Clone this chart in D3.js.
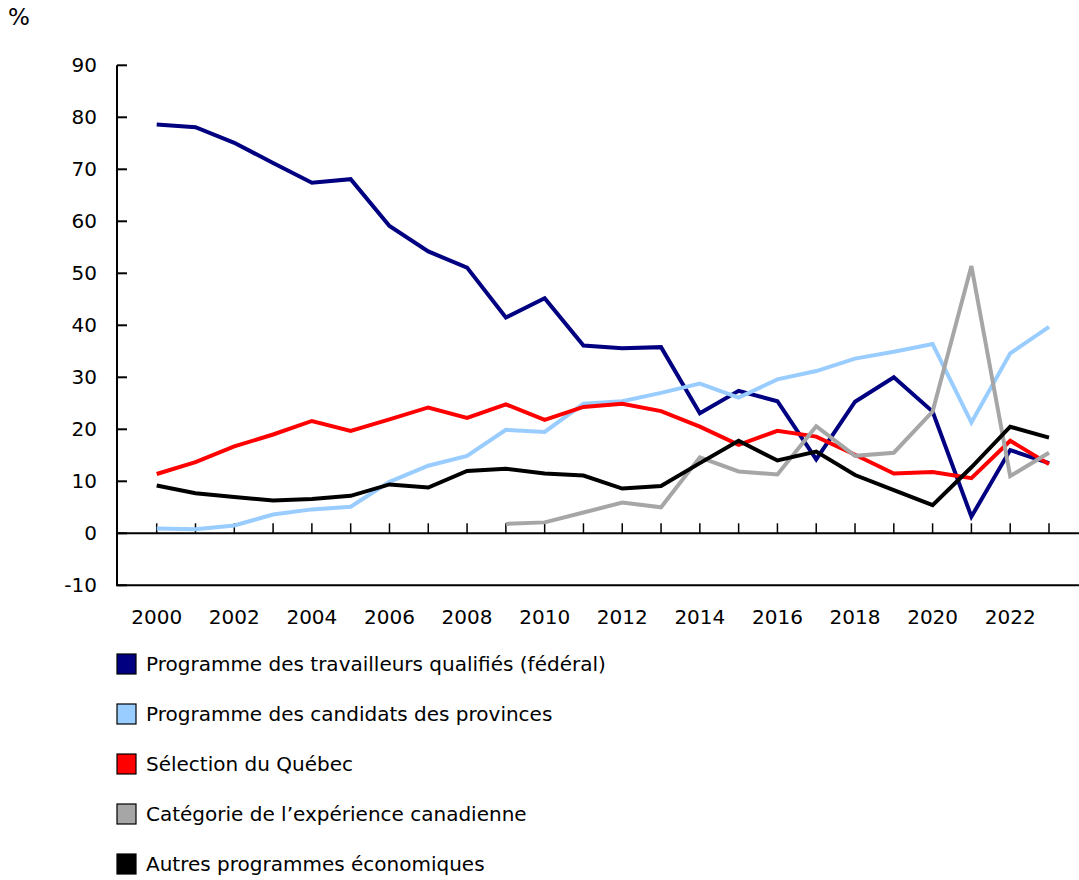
<!DOCTYPE html>
<html><head><meta charset="utf-8">
<script src="https://cdn.jsdelivr.net/npm/d3@7"></script>
<style>
body{margin:0;background:#fff;}
svg{display:block;font-family:"DejaVu Sans",Verdana,sans-serif;}
</style></head>
<body>
<svg id="c" width="1079" height="880"></svg>
<script>
const years = d3.range(2000, 2024);
const federal = [78.6,78.1,75.1,71.2,67.4,68.1,59.1,54.2,51.1,41.5,45.2,36.1,35.6,35.8,23.1,27.4,25.4,14.2,25.3,30.0,23.4,3.2,16.0,13.5];
const provinces = [0.9,0.8,1.5,3.6,4.6,5.1,9.9,13.0,14.9,19.9,19.5,24.9,25.4,27.0,28.8,26.1,29.6,31.2,33.6,34.9,36.4,21.3,34.6,39.7];
const quebec = [11.4,13.7,16.7,19.0,21.6,19.7,21.9,24.2,22.2,24.8,21.8,24.3,24.9,23.5,20.5,17.0,19.7,18.6,15.1,11.5,11.8,10.6,17.8,13.3];
const cec = [null,null,null,null,null,null,null,null,null,1.8,2.1,4.0,5.9,5.0,14.6,11.9,11.3,20.6,14.9,15.5,23.4,51.4,11.0,15.5];
const others = [9.2,7.7,7.0,6.3,6.6,7.2,9.4,8.8,12.0,12.4,11.5,11.1,8.6,9.1,13.5,17.8,14.0,15.7,11.2,8.3,5.4,12.7,20.5,18.4];
const seriesNames = ["Programme des travailleurs qualifiés (fédéral)","Programme des candidats des provinces","Sélection du Québec","Catégorie de l’expérience canadienne","Autres programmes économiques"];
const seriesColors = ["#000080","#99ccff","#ff0000","#a6a6a6","#000000"];
const yTicks = [-10,0,10,20,30,40,50,60,70,80,90];
const xTickLabels = [2000,2002,2004,2006,2008,2010,2012,2014,2016,2018,2020,2022];

const allSeries = [federal, provinces, quebec, cec, others];
const svg = d3.select("#c");
const left = 117, right = 1079;
const x = d3.scaleLinear().domain([2000, 2023]).range([156.7, 1049]);
const y = d3.scaleLinear().domain([-10, 90]).range([585.3, 65.3]);
const fs = 20;

// unit
svg.append("text").attr("x", 8).attr("y", 25).attr("font-size", 23).text("%");

// y axis
svg.append("line").attr("x1", left).attr("x2", left).attr("y1", y(90)).attr("y2", y(-10)).attr("stroke","#000").attr("stroke-width",2);
yTicks.forEach(t => {
  svg.append("line").attr("x1", left).attr("x2", left + 10).attr("y1", y(t)).attr("y2", y(t)).attr("stroke","#000").attr("stroke-width",2);
  svg.append("text").attr("x", 97).attr("y", y(t)).attr("dy","0.35em").attr("text-anchor","end").attr("font-size", fs).text(t);
});
// bottom line
svg.append("line").attr("x1", left-1).attr("x2", right).attr("y1", y(-10)).attr("y2", y(-10)).attr("stroke","#000").attr("stroke-width",2);
// zero line
svg.append("line").attr("x1", left).attr("x2", right).attr("y1", y(0)).attr("y2", y(0)).attr("stroke","#000").attr("stroke-width",2);
years.forEach(yr => {
  svg.append("line").attr("x1", x(yr)).attr("x2", x(yr)).attr("y1", y(0)).attr("y2", y(0) - 10).attr("stroke","#000").attr("stroke-width",1.5);
});
xTickLabels.forEach(t => {
  svg.append("text").attr("x", x(t)).attr("y", 617).attr("dy","0.35em").attr("text-anchor","middle").attr("font-size", fs).text(t);
});

const line = d3.line().defined(d => d != null).x((d,i) => x(years[i])).y(d => y(d));
allSeries.forEach((s, k) => {
  svg.append("path").datum(s).attr("d", line).attr("fill","none")
    .attr("stroke", seriesColors[k]).attr("stroke-width", 4).attr("stroke-linejoin","miter");
});

// legend
seriesNames.forEach((n, i) => {
  const cy = 664 + i * 50;
  svg.append("rect").attr("x", 117).attr("y", cy - 10).attr("width", 19).attr("height", 20)
    .attr("fill", seriesColors[i]).attr("stroke","#000").attr("stroke-width",1.2);
  svg.append("text").attr("x", 146).attr("y", cy).attr("dy","0.35em").attr("font-size", fs).text(n);
});
</script>
</body></html>
